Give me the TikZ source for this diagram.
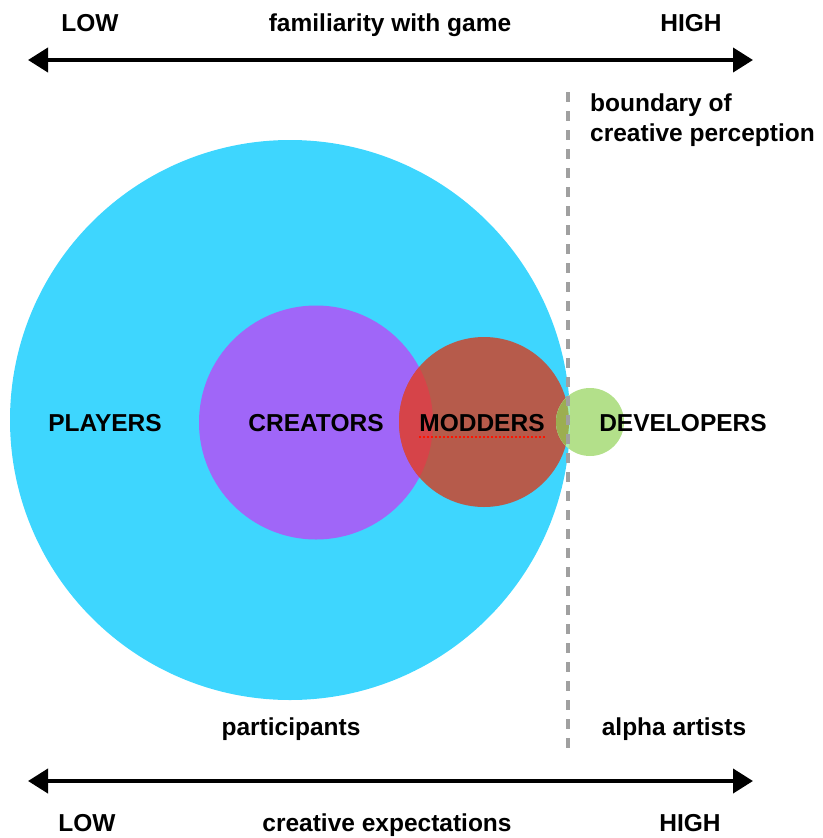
\documentclass[tikz,border=0pt]{standalone}
\usepackage{fontspec}
\setmainfont{Liberation Sans}
\usetikzlibrary{arrows.meta}

% fills of the sets and of their overlaps
\definecolor{playcyan}{HTML}{3ED6FE}
\definecolor{creatpurple}{HTML}{A066F8}
\definecolor{modbrown}{HTML}{B65B4B}
\definecolor{modcreat}{HTML}{D64449}
\definecolor{devgreen}{HTML}{B3E08A}
\definecolor{devmod}{HTML}{9CAE50}
\definecolor{devcyan}{HTML}{A6EEB8}
\definecolor{boundgray}{HTML}{A0A0A0}

\begin{document}
\begin{tikzpicture}[x=1pt,y=-1pt,
    lbl/.style={font=\fontsize{24.5}{30}\selectfont\bfseries, anchor=base, inner sep=0pt},
    lblw/.style={lbl, anchor=base west},
    scalearrow/.style={line width=4pt,
      {Triangle[length=20pt,width=24pt]}-{Triangle[length=20pt,width=24pt]}},
    boundary/.style={boundgray, line width=4pt, dash pattern=on 10pt off 9pt}]
\useasboundingbox (0,0) rectangle (822,838);

% set circles
\fill[playcyan] (290,420) circle[radius=280pt];
\fill[creatpurple] (316,422.5) circle[radius=117pt];
\fill[modbrown] (484,422) circle[radius=85pt];
\begin{scope}
  \clip (316,422.5) circle[radius=117pt];
  \fill[modcreat] (484,422) circle[radius=85pt];
\end{scope}
\fill[devgreen] (590,422) circle[radius=34pt];
\begin{scope}
  \clip (590,422) circle[radius=34pt];
  \fill[devcyan] (290,420) circle[radius=280pt];
  \fill[devmod] (484,422) circle[radius=85pt];
\end{scope}

% boundary of creative perception
\coordinate (btop) at (568,92);
\coordinate (bbot) at (568,750);
\draw[boundary] (btop) -- (bbot);

% scales
\coordinate (tl) at (28,60);
\coordinate (tr) at (753,60);
\coordinate (bl) at (28,781);
\coordinate (br) at (753,781);
\draw[scalearrow] (tl) -- (tr);
\draw[scalearrow] (bl) -- (br);

% scale labels
\node[lbl] (lowtop) at (90,31) {LOW};
\node[lbl] (famil) at (390,31) {familiarity with game};
\node[lbl] (hightop) at (691,31) {HIGH};
\node[lbl] (lowbot) at (87,831) {LOW};
\node[lbl] (creexp) at (387,831) {creative expectations};
\node[lbl] (highbot) at (690,831) {HIGH};

% boundary label
\node[lblw] (bound1) at (590,111) {boundary of};
\node[lblw] (bound2) at (590,141) {creative perception};

% set labels
\node[lbl] (players) at (105,431) {PLAYERS};
\node[lbl] (creators) at (316,431) {CREATORS};
\node[lbl] (modders) at (482,431) {MODDERS};
\node[lbl] (developers) at (683,431) {DEVELOPERS};
\draw[red!85!orange, line width=2pt, dash pattern=on 2pt off 2pt]
  ([yshift=-6pt]modders.base west) -- ([yshift=-6pt]modders.base east);

% group labels
\node[lbl] (particip) at (291,735) {participants};
\node[lbl] (alpha) at (674,735) {alpha artists};
\end{tikzpicture}
\end{document}
